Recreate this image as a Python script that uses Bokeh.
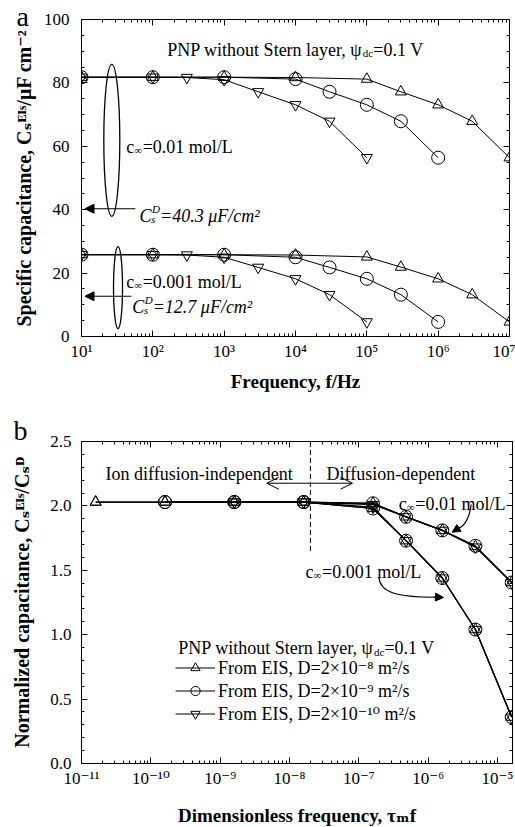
import math
from bokeh.plotting import figure
from bokeh.models import (LogAxis, LinearAxis, Label, Arrow, NormalHead, OpenHead, Title,
                          CustomJSTickFormatter, SingleIntervalTicker, FixedTicker,
                          PrintfTickFormatter, Range1d, Legend, LegendItem)
from bokeh.layouts import column
from bokeh.embed import file_html
from bokeh.resources import INLINE

SERIF = "Liberation Serif"
SERIF_SUP = "'Liberation Serif', 'DejaVu Serif', serif"

# ---------------- data: panel a (frequency in Hz, capacitance in uF/cm2) ----------------
freq_tri = [10, 100, 1e3, 1e4, 1e5, 3e5, 1e6, 3e6, 1e7]
freq_cir = [10, 100, 1e3, 1e4, 3e4, 1e5, 3e5, 1e6]
freq_inv = [10, 100, 300, 1e3, 3e3, 1e4, 3e4, 1e5]

cs_hi_tri = [81.8, 81.8, 81.8, 81.7, 81.2, 77.2, 73.1, 67.9, 56.4]
cs_hi_cir = [81.8, 81.8, 81.8, 81.2, 77.2, 73.1, 67.9, 56.4]
cs_hi_inv = [81.8, 81.8, 81.7, 81.0, 77.2, 73.1, 67.9, 56.4]

cs_lo_tri = [25.8, 25.8, 25.8, 25.7, 25.1, 21.9, 18.2, 13.2, 4.6]
cs_lo_cir = [25.8, 25.8, 25.8, 25.0, 21.8, 18.2, 13.2, 4.6]
cs_lo_inv = [25.8, 25.8, 25.7, 25.0, 21.8, 18.2, 13.2, 4.6]

# ---------------- data: panel b (dimensionless frequency, normalized capacitance) --------
tau_tri = [1.6e-11, 1.6e-10, 1.6e-9, 1.6e-8, 1.6e-7, 4.8e-7, 1.6e-6, 4.8e-6, 1.6e-5]
tau_cir = [1.6e-10, 1.6e-9, 1.6e-8, 1.6e-7, 4.8e-7, 1.6e-6, 4.8e-6, 1.6e-5]
tau_inv = [1.6e-9, 1.6e-8, 1.6e-7, 4.8e-7, 1.6e-6, 4.8e-6, 1.6e-5]

nc_hi_tri = [2.03, 2.03, 2.03, 2.03, 2.02, 1.915, 1.81, 1.685, 1.405]
nc_hi_cir = [2.03, 2.03, 2.03, 2.02, 1.915, 1.81, 1.69, 1.405]
nc_hi_inv = [2.03, 2.03, 2.01, 1.915, 1.81, 1.68, 1.405]

nc_lo_tri = [2.03, 2.03, 2.03, 2.03, 1.98, 1.73, 1.44, 1.04, 0.36]
nc_lo_cir = [2.03, 2.03, 2.03, 1.98, 1.73, 1.44, 1.04, 0.36]
nc_lo_inv = [2.03, 2.03, 1.99, 1.73, 1.44, 1.04, 0.36]

legend_labels = ["From EIS, D=2\u00d710\u207b\u2078 m\u00b2/s",
                 "From EIS, D=2\u00d710\u207b\u2079 m\u00b2/s",
                 "From EIS, D=2\u00d710\u207b\u00b9\u2070 m\u00b2/s"]

SUP_JS = """
const sup = {"-":"\u207b","0":"\u2070","1":"\u00b9","2":"\u00b2","3":"\u00b3","4":"\u2074","5":"\u2075","6":"\u2076","7":"\u2077","8":"\u2078","9":"\u2079"};
const e = Math.round(Math.log10(tick));
return "10" + String(e).split("").map(c => sup[c]).join("");
"""


def log_ticker(lo, hi):
    majors = [10.0 ** k for k in range(lo, hi + 1)]
    minors = [m * 10.0 ** k for k in range(lo, hi) for m in range(2, 10)]
    return FixedTicker(ticks=majors, minor_ticks=minors)


def style_axis(ax, show_labels=True):
    ax.axis_line_color = "black"
    ax.axis_line_width = 1
    ax.major_tick_in = 6
    ax.major_tick_out = 0
    ax.minor_tick_in = 3
    ax.minor_tick_out = 0
    ax.major_tick_line_color = "black"
    ax.minor_tick_line_color = "black"
    ax.major_label_text_font = SERIF_SUP
    ax.major_label_text_color = "black"
    ax.axis_label_text_font = SERIF_SUP
    ax.axis_label_text_font_style = "bold"
    ax.axis_label_text_color = "black"
    if show_labels:
        ax.major_label_text_font_size = "17px"
    else:
        ax.major_label_text_font_size = "0px"
        ax.major_label_standoff = 0
        ax.formatter = CustomJSTickFormatter(code="return '';")


def make_fig(xr, yr, fw, fh, bl, br, bt, bb, xtick, ytick, ystand, letter, loff, lstand):
    p = figure(x_axis_type="log", x_range=xr, y_range=yr,
               width=fw + bl + br, height=fh + bt + bb,
               frame_width=fw, frame_height=fh,
               min_border_left=bl, min_border_right=br,
               min_border_top=bt, min_border_bottom=bb,
               output_backend="svg", toolbar_location=None, title=None)
    p.xgrid.visible = False
    p.ygrid.visible = False
    p.outline_line_color = "black"
    p.background_fill_color = "white"
    p.border_fill_color = "white"
    xa = p.xaxis[0]
    xa.ticker = xtick
    xa.formatter = CustomJSTickFormatter(code=SUP_JS)
    style_axis(xa)
    xa.major_label_standoff = 5
    ya = p.yaxis[0]
    ya.ticker = ytick
    style_axis(ya)
    ya.major_label_standoff = ystand
    top = LogAxis(ticker=xtick)
    style_axis(top, False)
    p.add_layout(top, "above")
    right = LinearAxis(ticker=ytick)
    style_axis(right, False)
    p.add_layout(right, "right")
    # panel letter
    p.add_layout(Title(text=letter, align="left", offset=loff, standoff=lstand,
                       text_font=SERIF, text_font_size="28px", text_font_style="normal",
                       text_color="black"), "above")
    return p, xa, ya


def put(p, x, y, text, size, style="normal", align="left", angle=0.0, baseline="alphabetic"):
    p.add_layout(Label(x=x, y=y, x_units="screen", y_units="screen", text=text,
                       text_font=SERIF, text_font_size=f"{size}px", text_font_style=style,
                       text_align=align, text_baseline=baseline, angle=angle,
                       text_color="black"))


def series(p, x, y, marker, size, lw):
    l = p.line(x, y, line_color="black", line_width=lw)
    s = p.scatter(x, y, marker=marker, size=size, fill_color=None,
                  line_color="black", line_width=1)
    return l, s


# ======================= panel a =======================
pa, pa_x, pa_y = make_fig(Range1d(10, 1e7), Range1d(0, 100), 428, 317, 77, 10, 19, 64,
                          log_ticker(1, 7), SingleIntervalTicker(interval=20, num_minor_ticks=4),
                          12, "a", -65, -24)
pa_x.axis_label = "Frequency, f/Hz"
pa_x.axis_label_text_font_size = "19px"
pa_x.axis_label_standoff = 7
pa_y.axis_label = "Specific capacitance, C\u209b\u1d31\u1d35\u02e2/\u03bcF cm\u207b\u00b2"
pa_y.axis_label_text_font_size = "20px"
pa_y.axis_label_standoff = 6

for ys, fx, mk, sz in [(cs_hi_tri, freq_tri, "triangle", 11), (cs_hi_cir, freq_cir, "circle", 13),
                       (cs_hi_inv, freq_inv, "inverted_triangle", 11),
                       (cs_lo_tri, freq_tri, "triangle", 11), (cs_lo_cir, freq_cir, "circle", 13),
                       (cs_lo_inv, freq_inv, "inverted_triangle", 11)]:
    series(pa, fx, ys, mk, sz, 1)

# ellipses grouping the concentrations
pa.ellipse(x=[26.6], y=[61.9], width=16, height=152, width_units="screen", height_units="screen",
           fill_color=None, line_color="black", line_width=1.3)
pa.ellipse(x=[32.5], y=[15.4], width=9, height=82, width_units="screen", height_units="screen",
           fill_color=None, line_color="black", line_width=1.3)

# arrows to the diffuse-layer capacitance on the axis
for yv, xs in [(40.3, 57.0), (12.7, 50.0)]:
    pa.add_layout(Arrow(x_start=xs, y_start=yv, x_end=11.2, y_end=yv, line_width=1,
                        end=NormalHead(size=9, fill_color="black", line_color="black")))

ax0, ay0 = 280.8, 287
put(pa, ax0, ay0, "PNP without Stern layer, \u03c8", 18, align="right")
put(pa, ax0 + 0.5, ay0 - 3.5, "dc", 11)
put(pa, ax0 + 11, ay0, "=0.1 V", 18)

for x0, y0, txt in [(44.7, 189.3, "=0.01 mol/L"), (44.7, 55, "=0.001 mol/L")]:
    put(pa, x0, y0, "c", 18)
    put(pa, x0 + 8, y0 - 3, "\u221e", 11)
    put(pa, x0 + 16.5, y0, txt, 18)

for x0, y0, txt in [(58, 120.7, "=40.3 \u03bcF/cm\u00b2"), (50.7, 30, "=12.7 \u03bcF/cm\u00b2")]:
    put(pa, x0, y0, "C", 18, style="italic")
    put(pa, x0 + 12.5, y0 + 7, "D", 11, style="italic")
    put(pa, x0 + 11.5, y0 - 3.5, "s", 11, style="italic")
    put(pa, x0 + 20.5, y0, txt, 18, style="italic")

# ======================= panel b =======================
pb, pb_x, pb_y = make_fig(Range1d(1e-11, 1.645e-5), Range1d(0, 2.5), 431, 322, 81, 3, 41, 64,
                          log_ticker(-11, -5),
                          SingleIntervalTicker(interval=0.5, num_minor_ticks=5),
                          10, "b", -68, -8)
pb_y.formatter = PrintfTickFormatter(format="%.1f")
pb_x.axis_label = "Dimensionless frequency, \u03c4\u2098f"
pb_x.axis_label_text_font_size = "19px"
pb_x.axis_label_standoff = 14
pb_y.axis_label = "Normalized capacitance, C\u209b\u1d31\u1d35\u02e2/C\u209b\u1d30"
pb_y.axis_label_text_font_size = "20px"
pb_y.axis_label_standoff = 14

items = []
for (xs, yh, yl, mk, sz), lab in zip([(tau_tri, nc_hi_tri, nc_lo_tri, "triangle", 11),
                                      (tau_cir, nc_hi_cir, nc_lo_cir, "circle", 13),
                                      (tau_inv, nc_hi_inv, nc_lo_inv, "inverted_triangle", 11)],
                                     legend_labels):
    l1, s1 = series(pb, xs, yh, mk, sz, 1.2)
    series(pb, xs, yl, mk, sz, 1.2)
    items.append(LegendItem(label=lab, renderers=[l1, s1]))

legend = Legend(items=items, location=(94, 38), label_text_font=SERIF_SUP,
                label_text_font_size="18px", label_text_color="black",
                glyph_width=40, glyph_height=23,
                label_height=23, spacing=0, padding=0, margin=0, label_standoff=3,
                border_line_alpha=0, background_fill_alpha=0)
pb.add_layout(legend)

# regime divider and arrows
pb.add_layout(Arrow(x_start=2e-8, y_start=1.65, x_end=2e-8, y_end=2.5, start=None, end=None,
                    line_dash="5 3", line_width=1))
for xe in [4.7e-9, 8.1e-8]:
    pb.add_layout(Arrow(x_start=2e-8, y_start=2.176, x_end=xe, y_end=2.176, line_width=1,
                        end=OpenHead(size=12, line_width=1)))

# curved pointers to the two concentration branches
pb.quadratic(x0=[4.17e-6], y0=[2.011], x1=[2.56e-6], y1=[1.817], cx=[3.81e-6], cy=[1.848],
             line_color="black", line_width=1.2)
pb.add_layout(Arrow(x_start=2.92e-6, y_start=1.836, x_end=2.22e-6, y_end=1.796, line_width=1.2,
                    end=NormalHead(size=8, fill_color="black", line_color="black")))
pb.bezier(x0=[1.94e-7], y0=[1.446], x1=[1.4e-6], y1=[1.291], cx0=[2.05e-7], cy0=[1.328],
          cx1=[3.37e-7], cy1=[1.289], line_color="black", line_width=1.2)
pb.add_layout(Arrow(x_start=1.2e-6, y_start=1.293, x_end=1.66e-6, y_end=1.289, line_width=1.2,
                    end=NormalHead(size=8, fill_color="black", line_color="black")))

put(pb, 24, 290, "Ion diffusion-independent", 18)
put(pb, 245, 290, "Diffusion-dependent", 18)
for x0, y0, txt in [(317.3, 259.7, "=0.01 mol/L"), (224, 191.3, "=0.001 mol/L")]:
    put(pb, x0, y0, "c", 18)
    put(pb, x0 + 8, y0 - 3, "\u221e", 11)
    put(pb, x0 + 16.5, y0, txt, 18)

ax1, ay1 = 291.9, 115.3
put(pb, ax1, ay1, "PNP without Stern layer, \u03c8", 18, align="right")
put(pb, ax1 + 0.5, ay1 - 3.5, "dc", 11)
put(pb, ax1 + 11, ay1, "=0.1 V", 18)

layout = column(pa, pb, spacing=0)
open("out.html", "w").write(file_html(layout, INLINE))
